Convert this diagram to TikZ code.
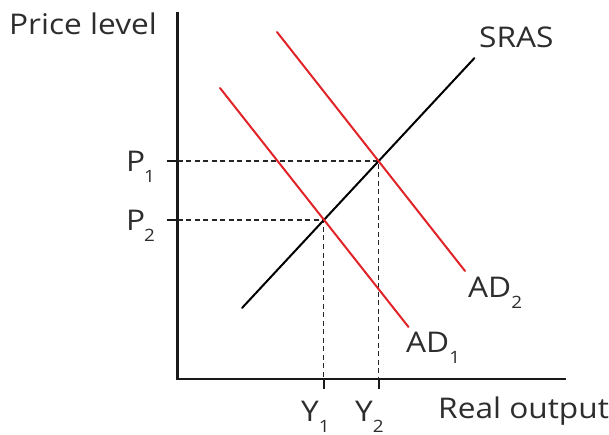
\documentclass[tikz,border=0pt]{standalone}
\usepackage{fontspec}
\setmainfont{Open Sans}[FakeStretch=1.11]
\definecolor{adred}{RGB}{225,35,40}
\definecolor{txt}{RGB}{45,45,45}
\newcommand{\lowsub}[1]{\raisebox{-11pt}{\fontsize{17}{17}\selectfont #1}}
\begin{document}
\begin{tikzpicture}[x=1pt,y=-1pt,
  axisline/.style={line width=2.2pt,black!90},
  curve/.style={line width=2pt,line cap=round},
  guide/.style={line width=1.2pt,black!85,dash pattern=on 5pt off 3.5pt},
  tickmark/.style={line width=2pt,black!90},
  lbl/.style={anchor=base west,inner sep=0pt,text=txt,font=\fontsize{28.5}{30}\selectfont}]
\useasboundingbox (0,0) rectangle (609,435);
% axes
\coordinate (top) at (177.5,12);
\coordinate (origin) at (177.5,379);
\coordinate (xend) at (566,379);
\draw[axisline] (top) -- (origin) -- (xend);
% equilibria
\coordinate (e1) at (378.5,161);
\coordinate (e2) at (323.5,220);
\coordinate (p1) at (177.5,161);
\coordinate (p2) at (177.5,220);
\coordinate (y1) at (323.5,379);
\coordinate (y2) at (378.5,379);
\coordinate (p1t) at (166.5,161);
\coordinate (p2t) at (166.5,220);
\coordinate (y1t) at (323.5,389);
\coordinate (y2t) at (378.5,389);
% guides
\draw[guide] (p1) -- (e1) -- (y2);
\draw[guide] (p2) -- (e2) -- (y1);
\draw[tickmark] (p1t) -- (p1);
\draw[tickmark] (p2t) -- (p2);
\draw[tickmark] (y1) -- (y1t);
\draw[tickmark] (y2) -- (y2t);
% curves
\coordinate (sa) at (242,308);
\coordinate (sb) at (474.5,58);
\coordinate (a1a) at (220,88);
\coordinate (a1b) at (408.5,327);
\coordinate (a2a) at (277,32);
\coordinate (a2b) at (465,271);
\draw[curve,black] (sa) -- (sb);
\draw[curve,adred] (a1a) -- (a1b);
\draw[curve,adred] (a2a) -- (a2b);
% labels
\node[lbl] (lp) at (9,35) {Price level};
\node[lbl] (ls) at (479,48) {SRAS};
\node[lbl] (lp1) at (126,172) {P\kern-1pt\lowsub{1}};
\node[lbl] (lp2) at (126,230) {P\kern-1pt\lowsub{2}};
\node[lbl] (lad2) at (468,297) {AD\lowsub{2}};
\node[lbl] (lad1) at (406,352) {AD\lowsub{1}};
\node[lbl] (ly1) at (301,421) {Y\lowsub{1}};
\node[lbl] (ly2) at (355,421) {Y\lowsub{2}};
\node[lbl] (lr) at (438,418) {Real output};
\end{tikzpicture}
\end{document}
